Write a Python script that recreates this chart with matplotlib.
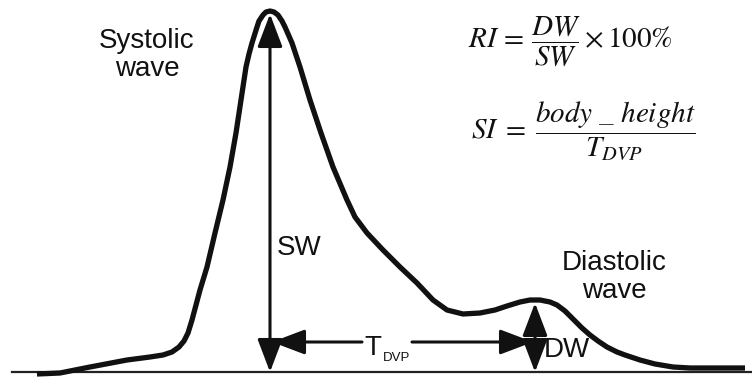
import matplotlib.pyplot as plt
from matplotlib.patches import FancyArrowPatch

plt.rcParams['mathtext.fontset'] = 'stix'

# pulse waveform (time in px, amplitude above baseline)
t = [37, 60, 90, 127, 150, 163, 172, 179, 184, 188, 192, 196, 200, 207, 215,
     223, 230, 236, 241, 246, 249, 252, 257, 259, 263, 266, 270, 274, 278, 282,
     285, 292, 300, 310, 321, 333, 347, 355, 367, 383, 400, 417, 433, 447, 463,
     480, 495, 507, 520, 530, 540, 550, 557, 565, 573, 582, 590, 598, 607, 617,
     625, 640, 655, 673, 690, 745]
amp = [-2, -1, 5, 12, 15, 17, 20, 25, 31, 39, 52, 67, 82, 105, 139,
       172, 205, 239, 272, 305, 318, 329, 345, 351, 357, 360, 361, 360, 357, 351,
       345, 329, 305, 272, 239, 205, 172, 155, 139, 122, 105, 89, 72, 62, 58,
       59, 62, 66, 70, 72, 72, 70, 67, 61, 53, 44, 37, 31, 25, 20,
       17, 12, 8, 5, 4, 4]

t_sys, sw = 270, 358      # systolic peak time / arrow height
t_dia, dw = 535, 69       # diastolic peak time / arrow height
y_tdvp = 30

fig = plt.figure(figsize=(7.52, 3.81), dpi=100)
ax = fig.add_axes([0, 0, 1, 1])
ax.set_xlim(0, 752)
ax.set_ylim(-9, 372)
ax.axis('off')

ax.axhline(0, xmin=12 / 752, xmax=1, color='#222222', lw=1.6)
ax.plot(t, amp, color='#111111', lw=3.8, solid_joinstyle='round', solid_capstyle='butt')


def arrow(p0, p1, style):
    a = FancyArrowPatch(p0, p1, arrowstyle=style, mutation_scale=14,
                        color='#111111', lw=2.2, shrinkA=0, shrinkB=0)
    ax.add_patch(a)


both = '<|-|>,head_length=1.45,head_width=0.55'
one = '-|>,head_length=1.45,head_width=0.55'
arrow((t_sys, 0), (t_sys, sw), both)
arrow((t_dia, 0), (t_dia, dw), both)
arrow((362, y_tdvp), (t_sys + 2, y_tdvp), one)
arrow((412, y_tdvp), (t_dia - 2, y_tdvp), one)

lab = dict(family='Liberation Sans', fontsize=20, color='#111111')
ax.text(147, 317, 'Systolic\nwave', ha='center', va='center', linespacing=1.15, **lab)
ax.text(614, 95, 'Diastolic\nwave', ha='center', va='center', linespacing=1.15, **lab)
ax.text(277, 117, 'SW', ha='left', va='baseline', **lab)
ax.text(544, 15, 'DW', ha='left', va='baseline', **lab)
ax.text(364, 17, 'T', ha='left', va='baseline', **lab)
ax.text(383, 11, 'DVP', ha='left', va='baseline', family='Liberation Sans',
        fontsize=9.5, color='#111111')

ax.text(570, 331, r'$RI\,=\,\dfrac{DW}{SW}\times 100\%$', ha='center', va='center',
        fontsize=21, color='#111111')
ax.text(583, 242, r'$SI\;=\;\dfrac{body\ \_\ height}{T_{DVP}}$', ha='center', va='center',
        fontsize=21, color='#111111')

fig.savefig('out.png', dpi=100)
